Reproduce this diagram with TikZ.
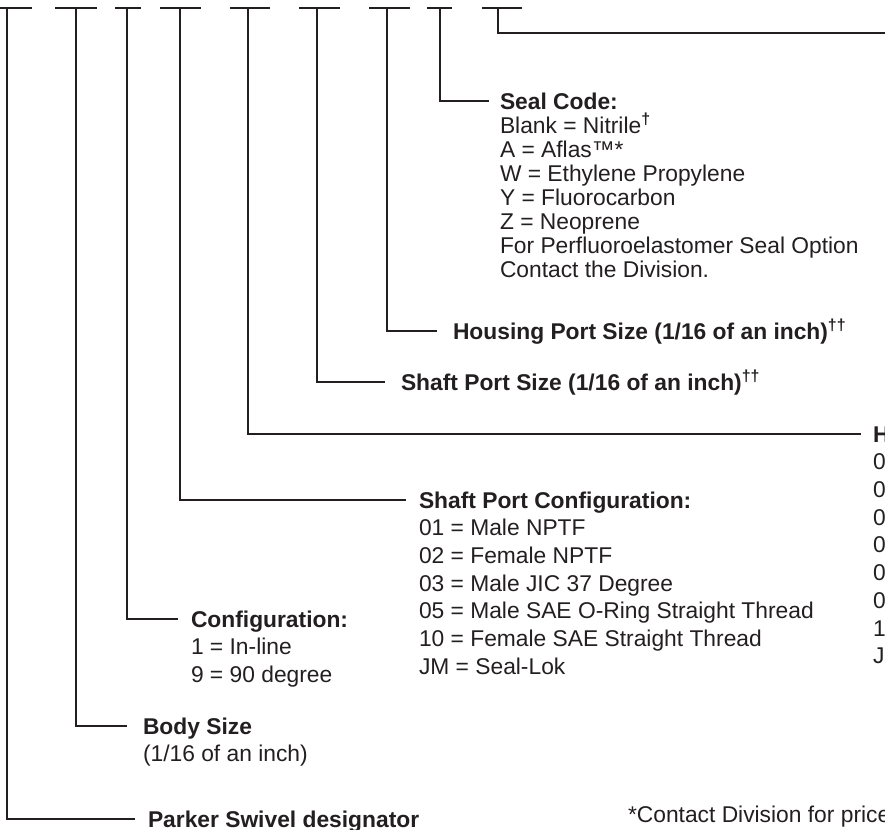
\documentclass[tikz,border=0pt]{standalone}
\usepackage{fontspec}
\setmainfont{Liberation Sans}
\usetikzlibrary{calc}
\definecolor{ink}{HTML}{231F20}
\tikzset{
  lead/.style={draw=ink, line width=1.5pt},
  lbl/.style={anchor=base west, inner sep=0pt, outer sep=0pt, text=ink,
    font=\fontsize{17.1}{20.8}\selectfont},
}
\newcommand{\dg}{\textsuperscript{\bfseries †}}
\begin{document}
\begin{tikzpicture}[x=0.75pt,y=-0.75pt]
\useasboundingbox (0,0) rectangle (885,829);
\clip (0,0) rectangle (885,829);
% tick bars
\foreach \n/\x/\l/\r in {1/7/-8/32, 2/76/55/97, 3/127/115/141, 4/180/160/201,
  5/248/230/270, 6/317/299/340, 7/387/369/410, 8/440/427/452, 9/498/482/522}{
  \coordinate (t\n) at (\x,7.5);
  \draw[lead] (\l,7.5) -- (\r,7.5);
}
% labels
\node[lbl] (seal) at (500,109) {\vtop{\baselineskip=18pt
  \hbox{\bfseries Seal Code:}
  \hbox{Blank = Nitrile\dg}
  \hbox{A = Aflas™*}
  \hbox{W = Ethylene Propylene}
  \hbox{Y = Fluorocarbon}
  \hbox{Z = Neoprene}
  \hbox{For Perfluoroelastomer Seal Option}
  \hbox{Contact the Division.}}};
\node[lbl, font=\fontsize{17.1}{20.8}\selectfont\bfseries] (hsize) at (453,339)
  {Housing Port Size (1/16 of an inch)\textsuperscript{††}};
\node[lbl, font=\fontsize{17.1}{20.8}\selectfont\bfseries] (ssize) at (401,390)
  {Shaft Port Size (1/16 of an inch)\textsuperscript{††}};
\node[lbl] (hcfg) at (873,442) {\vtop{\baselineskip=20.8pt
  \hbox{\bfseries H}
  \hbox{0}\hbox{0}\hbox{0}\hbox{0}\hbox{0}\hbox{0}\hbox{1}\hbox{J}}};
\node[lbl] (scfg) at (419,508) {\vtop{\baselineskip=20.8pt
  \hbox{\bfseries Shaft Port Configuration:}
  \hbox{01 = Male NPTF}
  \hbox{02 = Female NPTF}
  \hbox{03 = Male JIC 37 Degree}
  \hbox{05 = Male SAE O-Ring Straight Thread}
  \hbox{10 = Female SAE Straight Thread}
  \hbox{JM = Seal-Lok}}};
\node[lbl] (cfg) at (191,627) {\vtop{\baselineskip=20.8pt
  \hbox{\bfseries Configuration:}
  \hbox{1 = In-line}
  \hbox{9 = 90 degree}}};
\node[lbl] (body) at (143,734) {\vtop{\baselineskip=20.8pt
  \hbox{\bfseries Body Size}
  \hbox{(1/16 of an inch)}}};
\node[lbl, font=\fontsize{17.1}{20.8}\selectfont\bfseries] (parker) at (148,827)
  {Parker Swivel designator};
\node[lbl] (note) at (628,822) {*Contact Division for price};
% leaders
\coordinate (e9) at (890,33);
\draw[lead] (t1) |- ($(parker.base west)+(-13,-8)$);
\draw[lead] (t2) |- ($(body.base west)+(-16,-8)$);
\draw[lead] (t3) |- ($(cfg.base west)+(-13,-8)$);
\draw[lead] (t4) |- ($(scfg.base west)+(-13,-8)$);
\draw[lead] (t5) |- ($(hcfg.base west)+(-12,-8)$);
\draw[lead] (t6) |- ($(ssize.base west)+(-16,-8)$);
\draw[lead] (t7) |- ($(hsize.base west)+(-16,-8)$);
\draw[lead] (t8) |- ($(seal.base west)+(-11,-8)$);
\draw[lead] (t9) |- (e9);
\end{tikzpicture}
\end{document}
